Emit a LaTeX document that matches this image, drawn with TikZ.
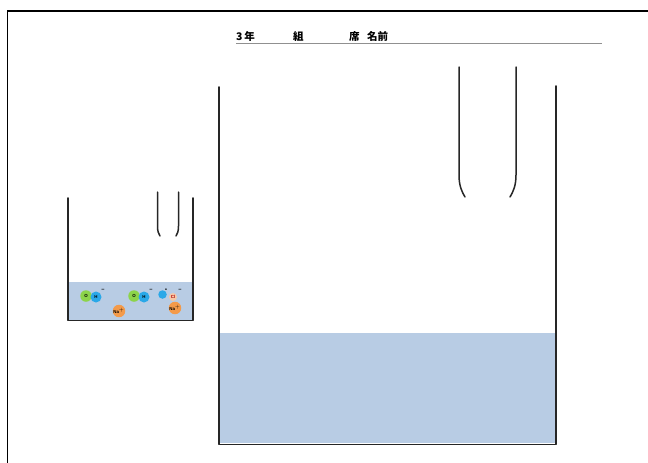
\documentclass[tikz,border=0pt]{standalone}
\usepackage{fontspec}
\newfontfamily\jpfont{Noto Sans CJK JP}
\newfontfamily\ionfont{Liberation Sans}
\definecolor{water}{HTML}{B8CCE4}
\definecolor{ohgreen}{HTML}{8CD44A}
\definecolor{ohblue}{HTML}{2AA8E8}
\definecolor{naorange}{HTML}{F39A4A}
\definecolor{clpeach}{HTML}{F5C9A8}
\definecolor{rulegray}{HTML}{909090}
\begin{document}
\begin{tikzpicture}[x=1pt,y=-1pt,
  wall/.style={line width=1.6pt,draw=black!85,line cap=round,line join=round},
  electrode/.style={line width=1.5pt,draw=black!85,line cap=round},
  headtext/.style={font=\jpfont\bfseries\fontsize{10.5}{11}\selectfont,inner sep=0pt,anchor=base west},
  ion/.style={circle,inner sep=0pt,minimum size=#1,font=\ionfont\bfseries\fontsize{4.4}{5}\selectfont},
  ionsign/.style={inner sep=0pt,font=\ionfont\bfseries\fontsize{5.5}{5}\selectfont}]
\useasboundingbox (0,0) rectangle (648,463);
\fill[white] (0,0) rectangle (648,463);

% sheet frame
\draw[line width=1.4pt] (7.5,470) -- (7.5,11) -- (655,11);

% header line: class, seat and name
\node[headtext] (grade) at (236,40) {3\,年};
\node[headtext] (kumi) at (293,40) {組};
\node[headtext] (seki) at (349,40) {席};
\node[headtext] (namae) at (367,40) {名前};
\coordinate (ruleL) at (236,43.5);
\coordinate (ruleR) at (602,43.5);
\draw[rulegray,line width=1.2pt] (ruleL) -- (ruleR);

% large beaker with solution
\fill[water] (220,333) rectangle (555,442.5);
\draw[wall] (219,87) -- (219,444.5) -- (556,444.5) -- (556,86);

% large electrodes
\draw[electrode] (459,67) -- (459,175) .. controls (459,186) and (462,192) .. (465,197);
\draw[electrode] (516,67) -- (516,175) .. controls (516,186) and (513,192) .. (510,197);

% small beaker with solution
\fill[water] (69,282) rectangle (192,320);
\draw[wall] (68,198) -- (68,320.5) -- (193,320.5) -- (193,198);

% small electrodes
\draw[electrode] (157.5,192) -- (157.5,226) .. controls (157.5,231) and (158.5,234) .. (160,236);
\draw[electrode] (178.5,192) -- (178.5,226) .. controls (178.5,231) and (177.5,234) .. (176,236);

% ions: OH-
\node[ion=11.5pt,fill=ohgreen] (o1) at (86,296) {O};
\node[ion=11pt,fill=ohblue] (h1) at (96,297) {H};
\node[ionsign] (m1) at (103,290.5) {\textminus};
\node[ion=11.5pt,fill=ohgreen] (o2) at (134,296) {O};
\node[ion=11pt,fill=ohblue] (h2) at (144,297) {H};
\node[ionsign] (m2) at (151,290.5) {\textminus};

% ions: H+ and Cl-
\node[ion=8.5pt,fill=ohblue] (hp) at (162.5,294.5) {};
\node[ionsign] (pp) at (166,290.5) {\textbullet};
\node[ion=8pt,fill=clpeach,text=red!70!black] (cl) at (173,297) {Cl};
\node[ionsign] (m3) at (180,290.5) {\textminus};

% ions: Na+
\node[ion=12pt,fill=naorange] (na1) at (119,311) {Na$^{+}$};
\node[ion=12pt,fill=naorange] (na2) at (175,308) {Na$^{+}$};
\end{tikzpicture}
\end{document}
